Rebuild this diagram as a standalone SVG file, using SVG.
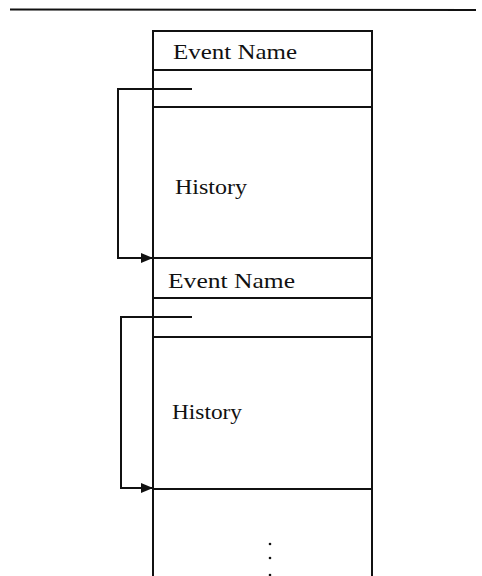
<svg xmlns="http://www.w3.org/2000/svg" width="482" height="576" viewBox="0 0 482 576">
  <style>
    .ln { stroke: #111; stroke-width: 2; fill: none; }
    .lbl { font-family: "Liberation Serif", "DejaVu Serif", serif; font-size: 21px; fill: #111; }
  </style>
  <defs>
    <marker id="arr" markerWidth="12" markerHeight="10" refX="12" refY="5" orient="auto" markerUnits="userSpaceOnUse">
      <path d="M0,0 L12,5 L0,10 Z" fill="#111"/>
    </marker>
  </defs>
  <rect width="482" height="576" fill="#fff"/>
  <!-- top rule -->
  <line class="ln" x1="10" y1="9.5" x2="476" y2="10" stroke-width="1.5"/>

  <!-- outer frame of the stack -->
  <g id="frame">
    <line class="ln" x1="153" y1="31" x2="372" y2="31"/>
    <line class="ln" x1="153" y1="30" x2="153" y2="576"/>
    <line class="ln" x1="372" y1="30" x2="372" y2="576"/>
  </g>

  <g id="record1">
    <text class="lbl" x="173" y="59" textLength="124" lengthAdjust="spacingAndGlyphs">Event Name</text>
    <line class="ln" x1="153" y1="70" x2="372" y2="70"/>
    <line class="ln" x1="153" y1="107" x2="372" y2="107"/>
    <text class="lbl" x="175" y="194" textLength="72" lengthAdjust="spacingAndGlyphs">History</text>
    <line class="ln" x1="153" y1="258" x2="372" y2="258"/>
  </g>

  <g id="record2">
    <text class="lbl" x="168" y="288" textLength="127" lengthAdjust="spacingAndGlyphs">Event Name</text>
    <line class="ln" x1="153" y1="298" x2="372" y2="298"/>
    <line class="ln" x1="153" y1="337" x2="372" y2="337"/>
    <text class="lbl" x="172" y="419" textLength="70" lengthAdjust="spacingAndGlyphs">History</text>
    <line class="ln" x1="153" y1="489" x2="372" y2="489"/>
  </g>

  <g id="continuation">
    <circle cx="270" cy="544" r="1.3" fill="#111"/>
    <circle cx="270" cy="558" r="1.3" fill="#111"/>
    <circle cx="270" cy="575" r="1.3" fill="#111"/>
  </g>

  <g id="connectors">
    <path class="ln" d="M192,89 H118 V258 H153" marker-end="url(#arr)"/>
    <path class="ln" d="M192,317 H121 V488 H153" marker-end="url(#arr)"/>
  </g>
</svg>
